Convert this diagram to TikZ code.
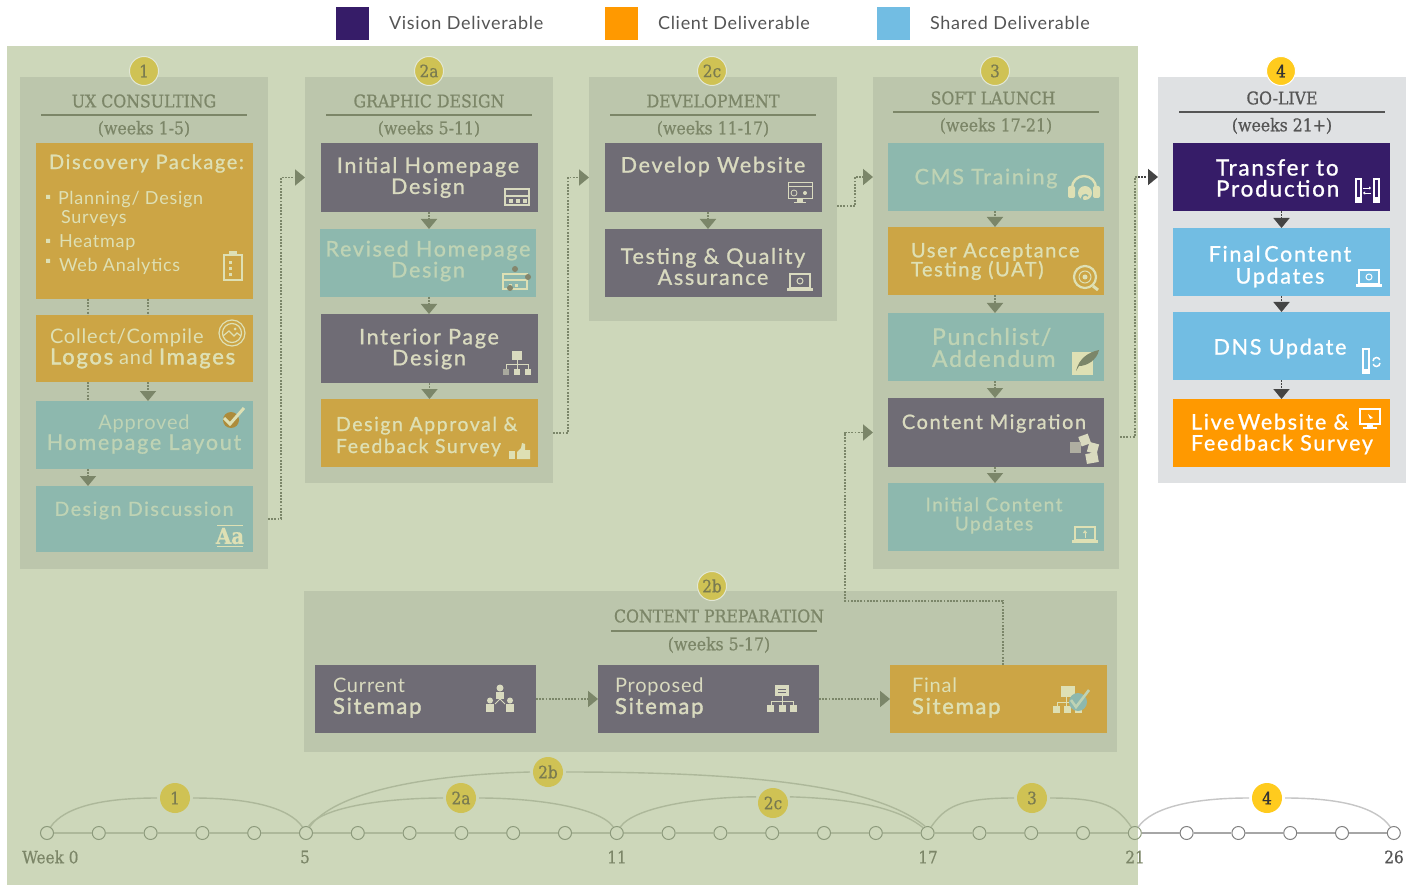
\documentclass[tikz,border=0pt]{standalone}
\usepackage{fontspec}
\usetikzlibrary{arrows.meta,calc}
\setmainfont{Lato}
\newfontfamily\bodyf[LetterSpace=8,FakeBold=1.0]{Lato}
\newfontfamily\thinf[LetterSpace=4]{Lato}
\newfontfamily\heavyf[LetterSpace=8,FakeBold=1.8]{Lato}
\newfontfamily\slabf[FakeBold=0.7]{DejaVu Serif Condensed}
\newcommand{\hv}[1]{{\heavyf\fontsize{22}{21}\selectfont #1}}
\definecolor{panel}{HTML}{CDD7BA}
\definecolor{colbg}{HTML}{BCC6AC}
\definecolor{teal}{HTML}{8DB8AE}
\definecolor{ochre}{HTML}{CCA545}
\definecolor{slate}{HTML}{6F6C75}
\definecolor{olive}{HTML}{7B8669}
\definecolor{vision}{HTML}{361C68}
\definecolor{shared}{HTML}{72BDE3}
\definecolor{client}{HTML}{FF9900}
\definecolor{greybg}{HTML}{DFE1E3}
\definecolor{badge}{HTML}{CFC254}
\definecolor{badgeink}{HTML}{7A7B50}
\definecolor{goldb}{HTML}{FFCB1E}
\definecolor{hdink}{HTML}{7C8668}
\definecolor{hddark}{HTML}{555555}
\definecolor{ctext}{HTML}{DEE0B4}
\definecolor{ttext}{HTML}{BFD3B4}
\definecolor{gtext}{HTML}{D9DABF}
\definecolor{arcc}{HTML}{ADB89A}
\definecolor{tick}{HTML}{8D9A7C}
\definecolor{wkink}{HTML}{858F75}
\tikzset{
 x=1pt,y=-1pt,
 cell/.style={inner sep=0,outer sep=0,draw=none},
 txt/.style={inner sep=0,outer sep=0,yshift=-1.5pt,align=center,font=\bodyf\fontsize{21.5}{21}\selectfont},
 txtl/.style={txt,align=left,anchor=west},
 hd/.style={inner sep=0,font=\slabf\fontsize{17.5}{18}\selectfont,text=hdink},
 wk/.style={inner sep=0,font=\slabf\fontsize{17}{18}\selectfont,text=hdink},
 rulel/.style={line width=2pt,draw=hdink},
 badg/.style={circle,minimum size=29pt,inner sep=0,fill=badge,draw=panel!60!white,line width=1pt,text=badgeink,font=\slabf\fontsize{17}{17}\selectfont},
 tbadg/.style={circle,minimum size=30pt,inner sep=0,fill=badge,draw=none,outer sep=3pt,text=badgeink,font=\slabf\fontsize{17}{17}\selectfont},
 dotc/.style={draw=olive,line width=1.8pt,dash pattern=on 1.8pt off 1.4pt,-{Triangle[width=16pt,length=10pt,color=olive]}},
 dotn/.style={draw=olive,line width=1.8pt,dash pattern=on 1.8pt off 1.4pt},
 week/.style={circle,minimum size=13pt,inner sep=0,draw=tick,line width=1pt},
 wlink/.style={draw=arcc,line width=1.8pt},
 arcl/.style={draw=arcc,line width=1.4pt},
}
\newcommand{\bx}[6]{\pgfmathsetmacro\bw{#4-#2}\pgfmathsetmacro\bh{#5-#3}\node[cell,fill=#6,minimum width=\bw pt,minimum height=\bh pt] (#1) at ({(#2+#4)/2},{(#3+#5)/2}) {};}
% icons
\newcommand{\iLayout}[3]{\begin{scope}[shift={(#1,#2)}]\draw[#3,line width=1.4pt](-12,-8) rectangle (12,8);\fill[#3](-12,-2) rectangle (12,0);\foreach\q in{-8,-1,6}{\fill[#3](\q,2) rectangle ++(4,4);}\end{scope}}
\newcommand{\iClip}[3]{\begin{scope}[shift={(#1,#2)}]\draw[#3,line width=1.5pt](-9,-11) rectangle (9,14);\fill[#3](-4,-15) rectangle (4,-10);\foreach\q in{-5,1,7}{\fill[#3](-4,\q) rectangle ++(3,3);}\end{scope}}
\newcommand{\iPhoto}[3]{\begin{scope}[shift={(#1,#2)}]\draw[#3,line width=1.2pt](0,0) circle (13);\draw[#3,line width=1.2pt](0,0) circle (9.5);\draw[#3,line width=1.2pt](-9,3)--(-3,-2)--(2,3)--(5,0)--(9,3);\fill[#3](3,-4) circle (1.5);\end{scope}}
\newcommand{\iCheck}[4]{\begin{scope}[shift={(#1,#2)}]\fill[#4!85!black](-1,2) circle (8);\draw[#3,line width=3pt](-8,0)--(-2,6)--(12,-10);\end{scope}}
\newcommand{\iAa}[3]{\begin{scope}[shift={(#1,#2)}]\node[inner sep=0,text=#3,font=\slabf\bfseries\fontsize{22}{22}\selectfont] (iaa) at (0,0) {Aa};\draw[#3,line width=1pt](-13,-11)--(13,-11) (-13,10)--(13,10);\end{scope}}
\newcommand{\iRevised}[3]{\begin{scope}[shift={(#1,#2)}]\draw[#3,line width=1.3pt](-12,-6) rectangle (12,9);\fill[#3](-12,-1) rectangle (12,1);\fill[#3](-6,4) rectangle ++(3,3);\fill[#3](0,4) rectangle ++(3,3);\fill[#3!60!black](0,-11) circle (3);\fill[#3!60!black](13,-3) circle (3);\fill[#3!60!black](-5,8) circle (3);\end{scope}}
\newcommand{\iTree}[3]{\begin{scope}[shift={(#1,#2)}]\fill[#3](-5,-12) rectangle (5,-3);\draw[#3,line width=1pt](0,-3)--(0,2)(-11,6)--(-11,2)--(11,2)--(11,6)(0,2)--(0,6);\fill[#3!55!slate](-14,6) rectangle (-8,12);\fill[#3](-3,6) rectangle (3,12);\fill[#3](8,6) rectangle (14,12);\end{scope}}
\newcommand{\iThumb}[3]{\begin{scope}[shift={(#1,#2)}]\fill[#3](-10,-1) rectangle (-4,7);\fill[#3](-2,0)--(2,-4)--(3,-9)--(6,-8)--(6,-2)--(11,-2)--(11,7)--(-2,7)--cycle;\end{scope}}
\newcommand{\iDev}[3]{\begin{scope}[shift={(#1,#2)}]\draw[#3,line width=1pt](-12,-9) rectangle (12,7);\draw[#3,line width=1pt](-12,-5)--(12,-5);\draw[#3,line width=.8pt](-6,1) circle (3);\fill[#3](-3,7) rectangle (3,10);\fill[#3](-6,10) rectangle (6,11.5);\fill[#3](5,1) circle (2);\end{scope}}
\newcommand{\iLaptopEye}[3]{\begin{scope}[shift={(#1,#2)}]\draw[#3,line width=1.1pt](-10,-8) rectangle (10,6);\fill[#3](-13,6) rectangle (13,9);\draw[#3,line width=1pt](0,-1) circle (3);\end{scope}}
\newcommand{\iLaptopUp}[3]{\begin{scope}[shift={(#1,#2)}]\draw[#3,line width=1.1pt](-10,-8) rectangle (10,5);\fill[#3](-13,5) rectangle (13,8);\draw[#3,line width=1pt,-{Triangle[width=4pt,length=3pt]}](0,3)--(0,-5);\end{scope}}
\newcommand{\iHead}[3]{\begin{scope}[shift={(#1,#2)}]\draw[#3,line width=2.4pt](-12,2) arc[start angle=180,end angle=360,radius=12];\fill[#3,rounded corners=2pt](-16,0) rectangle (-9,12);\fill[#3,rounded corners=2pt](9,0) rectangle (16,12);\fill[#3](1,7) circle (7);\draw[teal,line width=1.6pt](4,10) arc[start angle=-40,end angle=-300,radius=3.5];\end{scope}}
\newcommand{\iSearch}[3]{\begin{scope}[shift={(#1,#2)}]\draw[#3,line width=2.2pt](0,0) circle (11);\draw[#3,line width=1pt](0,0) circle (6);\fill[#3](0,0) circle (2.5);\draw[#3,line width=3pt](8,9)--(13,13);\end{scope}}
\newcommand{\iDoc}[3]{\begin{scope}[shift={(#1,#2)}]\fill[#3](-13,-10) rectangle (8,13);\fill[olive](-9,9) .. controls (-6,-4) and (4,-10) .. (14,-12) .. controls (12,-2) and (2,4) .. (-6,4) -- cycle;\end{scope}}
\newcommand{\iBoxes}[3]{\begin{scope}[shift={(#1,#2)}]\fill[#3,rotate around={20:(0,-8)}](-5,-14) rectangle (5,-4);\fill[#3!60!slate](-15,-7) rectangle (-4,4);\fill[#3,rotate around={-15:(8,-1)}](3,-6) rectangle (13,4);\fill[#3,rotate around={10:(7,9)}](1,4) rectangle (13,14);\end{scope}}
\newcommand{\iServers}[3]{\begin{scope}[shift={(#1,#2)}]\draw[#3,line width=1.1pt](-11,-11) rectangle (-6,12);\draw[#3,line width=1.1pt](7,-11) rectangle (12,12);\fill[#3](-11,7) rectangle (-6,12);\fill[#3](7,7) rectangle (12,12);\draw[#3,line width=.8pt,-{Triangle[width=3pt,length=2pt]}](-4,-2)--(4,-2);\draw[#3,line width=.8pt,-{Triangle[width=3pt,length=2pt]}](4,3)--(-4,3);\end{scope}}
\newcommand{\iSvSwap}[3]{\begin{scope}[shift={(#1,#2)}]\draw[#3,line width=1.1pt](-7,-12) rectangle (-1,12);\fill[#3](-7,8) rectangle (-1,12);\draw[#3,line width=1.5pt](3,0) arc[start angle=180,end angle=340,radius=3.5];\draw[#3,line width=1.5pt](10,2) arc[start angle=0,end angle=160,radius=3.5];\end{scope}}
\newcommand{\iMon}[3]{\begin{scope}[shift={(#1,#2)}]\draw[#3,line width=1.2pt](-10,-9) rectangle (10,6);\fill[#3](-3,6) rectangle (3,9);\fill[#3](-7,9) rectangle (7,11);\fill[#3](-2,-4)--(3,0)--(0,1)--cycle;\end{scope}}
\newcommand{\iPeople}[3]{\begin{scope}[shift={(#1,#2)}]\fill[#3](0,-11) circle (3.5);\fill[#3](-4,-7) rectangle (4,0);\fill[#3](-10,1.5) circle (3);\fill[#3](-14,5) rectangle (-6,13);\fill[#3](10,1.5) circle (3);\fill[#3](6,5) rectangle (14,13);\draw[#3,line width=1pt](-5,5)--(0,0)--(5,5);\end{scope}}
\newcommand{\iProp}[3]{\begin{scope}[shift={(#1,#2)}]\fill[#3](-7,-14) rectangle (7,-3);\draw[slate,line width=.7pt](-4,-10)--(4,-10)(-4,-7)--(4,-7);\draw[#3,line width=1pt](0,-3)--(0,6)(-11,6)--(-11,2)--(11,2)--(11,6);\fill[#3](-15,6) rectangle (-8,13);\fill[#3](-3.5,6) rectangle (3.5,13);\fill[#3](8,6) rectangle (15,13);\end{scope}}
\newcommand{\iFinal}[3]{\begin{scope}[shift={(#1,#2)}]\fill[#3](-11,-14) rectangle (3,-3);\draw[#3,line width=1pt](-6,-3)--(-6,6)(-15,6)--(-15,2)--(4,2)--(4,6);\fill[#3](-19,6) rectangle (-12,13);\fill[#3](-8,6) rectangle (-1,13);\fill[#3](3,6) rectangle (10,13);\fill[teal](6,2) circle (9);\draw[ttext,line width=2.6pt](-1,0)--(4,7)--(17,-10);\end{scope}}
\begin{document}
\begin{tikzpicture}
\useasboundingbox (0,0) rectangle (1406,885);
\fill[white] (0,0) rectangle (1406,885);
% legend
\bx{legA}{336}{7}{369}{40}{vision}
\bx{legB}{605}{7}{638}{40}{client}
\bx{legC}{877}{7}{910}{40}{shared}
\node[txtl,text=hddark,font=\thinf\fontsize{18}{18}\selectfont] (legAt) at (389,21.5) {Vision Deliverable};
\node[txtl,text=hddark,font=\thinf\fontsize{18}{18}\selectfont] (legBt) at (658,21.5) {Client Deliverable};
\node[txtl,text=hddark,font=\thinf\fontsize{18}{18}\selectfont] (legCt) at (930,21.5) {Shared Deliverable};
% big panel
\bx{zone}{7}{46}{1138}{885}{panel}
% columns
\bx{colA}{20}{77}{268}{569}{colbg}
\bx{colB}{305}{77}{553}{483}{colbg}
\bx{colC}{589}{77}{837}{321}{colbg}
\bx{colD}{873}{77}{1119}{569}{colbg}
\bx{colE}{1158}{77}{1406}{483}{greybg}
\bx{colF}{304}{591}{1117}{752}{colbg}
% column 1
\bx{disc}{36}{143}{253}{299}{ochre}
\bx{coll}{36}{315}{253}{382}{ochre}
\bx{appr}{36}{401}{253}{469}{teal}
\bx{ddis}{36}{486}{253}{552}{teal}
% column 2
\bx{ihd}{321}{143}{538}{212}{slate}
\bx{rhd}{320}{229}{536}{297}{teal}
\bx{ipd}{321}{314}{538}{383}{slate}
\bx{dafs}{321}{399}{538}{467}{ochre}
% column 3
\bx{dw}{605}{143}{822}{212}{slate}
\bx{tqa}{605}{229}{822}{297}{slate}
% column 4
\bx{cms}{888}{143}{1104}{211}{teal}
\bx{uat}{888}{227}{1104}{295}{ochre}
\bx{pun}{888}{313}{1104}{381}{teal}
\bx{mig}{888}{398}{1104}{467}{slate}
\bx{icu}{888}{483}{1104}{551}{teal}
% column 5
\bx{tp}{1173}{143}{1390}{211}{vision}
\bx{fcu}{1173}{228}{1390}{296}{shared}
\bx{dns}{1173}{312}{1390}{380}{shared}
\bx{lw}{1173}{399}{1390}{467}{client}
% content preparation
\bx{cs}{315}{665}{536}{733}{slate}
\bx{ps}{598}{665}{819}{733}{slate}
\bx{fs}{890}{665}{1107}{733}{ochre}
% headers
\node[hd] (h1) at (144,101) {UX CONSULTING};
\node[hd] (h1w) at (144,129) {(weeks 1-5)};
\coordinate (r1a) at (41,115.5); \coordinate (r1b) at (247,115.5);
\draw[rulel] (r1a)--(r1b);
\node[hd] (h2) at (429,101) {GRAPHIC DESIGN};
\node[hd] (h2w) at (429,129) {(weeks 5-11)};
\coordinate (r2a) at (326,115.5); \coordinate (r2b) at (532,115.5);
\draw[rulel] (r2a)--(r2b);
\node[hd] (h3) at (713,101) {DEVELOPMENT};
\node[hd] (h3w) at (713,129) {(weeks 11-17)};
\coordinate (r3a) at (610,115.5); \coordinate (r3b) at (816,115.5);
\draw[rulel] (r3a)--(r3b);
\node[hd] (h4) at (993,98) {SOFT LAUNCH};
\node[hd] (h4w) at (996,126) {(weeks 17-21)};
\coordinate (r4a) at (893,112.5); \coordinate (r4b) at (1099,112.5);
\draw[rulel] (r4a)--(r4b);
\node[hd,text=hddark] (h5) at (1282,98) {GO-LIVE};
\node[hd,text=hddark] (h5w) at (1282,126) {(weeks 21+)};
\coordinate (r5a) at (1179,112.5); \coordinate (r5b) at (1385,112.5);
\draw[rulel,draw=hddark] (r5a)--(r5b);
\node[hd] (h6) at (719,616) {CONTENT PREPARATION};
\node[hd] (h6w) at (719,645) {(weeks 5-17)};
\coordinate (r6a) at (611,631); \coordinate (r6b) at (817,631);
\draw[rulel] (r6a)--(r6b);
% badges
\node[badg] (b1) at (144,71) {1};
\node[badg] (b2a) at (429,71) {2a};
\node[badg] (b2c) at (712,71) {2c};
\node[badg] (b3) at (995,71) {3};
\node[badg,fill=goldb,draw=white,text=hddark!60!black] (b4) at (1281,71) {4};
\node[badg] (b2b) at (712,586) {2b};
% texts column 1
\node[txtl,text=ctext] (t1) at (49,162) {\fontsize{20}{20}\selectfont Discovery Package:};
\fill[ctext] (46,195) rectangle ++(4,4) (46,239) rectangle ++(4,4) (46,259) rectangle ++(4,4);
\node[txtl,text=ctext,font=\thinf\fontsize{18}{19}\selectfont] (t2) at (58,207.5) {Planning/ Design\\\,Surveys};
\node[txtl,text=ctext,font=\thinf\fontsize{18}{19}\selectfont] (t3) at (59,241) {Heatmap};
\node[txtl,text=ctext,font=\thinf\fontsize{18}{19}\selectfont] (t4) at (59,265) {Web Analytics};
\node[txtl,text=ctext,font=\thinf\fontsize{20}{21}\selectfont] (t5) at (50,347) {Collect/Compile\\\hv{Logos} and \hv{Images}};
\node[txt,text=ttext,font=\thinf\fontsize{20}{20}\selectfont] (t6) at (144,433) {Approved\\{\bodyf\fontsize{21.5}{20}\selectfont Homepage Layout}};
\node[txt,text=ttext] (t7) at (144,509) {\fontsize{19.5}{20}\selectfont Design Discussion};
% texts column 2
\node[txt,text=gtext] (t8) at (428,176) {Initial Homepage\\Design};
\node[txt,text=ttext] (t9) at (428,259.5) {Revised Homepage\\Design};
\node[txt,text=gtext] (t10) at (429,347.5) {Interior Page\\Design};
\node[txtl,text=ctext,font=\bodyf\fontsize{19.5}{22}\selectfont] (t11) at (336,435) {Design Approval \&\\Feedback Survey};
% texts column 3
\node[txt,text=gtext] (t12) at (713,165) {Develop Website};
\node[txt,text=gtext] (t13) at (713,265) {Testing \& Quality\\Assurance};
% texts column 4
\node[txt,text=ttext] (t14) at (986,177) {CMS Training};
\node[txtl,text=ctext,font=\bodyf\fontsize{20}{19}\selectfont] (t15) at (911,260) {User Acceptance\\Testing (UAT)};
\node[txtl,text=ttext,font=\bodyf\fontsize{23}{22}\selectfont] (t16) at (932,346) {Punchlist/\\Addendum};
\node[txt,text=gtext] (t17) at (994,422) {\fontsize{20}{20}\selectfont Content Migration};
\node[txt,text=ttext,font=\bodyf\fontsize{19}{19}\selectfont] (t18) at (994,514) {Initial Content\\Updates};
% texts column 5
\node[txtl,text=white,align=left,font=\bodyf\fontsize{22.5}{21}\selectfont] (t19) at (1216,176.5) {Transfer to\\Production};
\node[txt,text=white,font=\bodyf\fontsize{21.5}{22}\selectfont] (t20) at (1280,265) {Final\,Content\\Updates};
\node[txt,text=white] (t21) at (1280,347) {DNS Update};
\node[txtl,text=white,font=\bodyf\fontsize{21.5}{21}\selectfont] (t22) at (1191,432.5) {Live\,Website \&\\Feedback Survey};
% texts content prep
\node[txtl,text=gtext,font=\thinf\fontsize{20}{21}\selectfont] (t23) at (333,696.5) {Current\\\hv{Sitemap}};
\node[txtl,text=gtext,font=\thinf\fontsize{20}{21}\selectfont] (t24) at (615,696.5) {Proposed\\\hv{Sitemap}};
\node[txtl,text=ctext,font=\thinf\fontsize{20}{21}\selectfont] (t25) at (912,696.5) {Final\\\hv{Sitemap}};
% icons
\iClip{233}{266}{ctext}
\iPhoto{232}{333}{ctext}
\iCheck{232}{418}{ctext}{ochre}
\iAa{230}{536}{ctext}
\iLayout{517}{197}{gtext}
\iRevised{515}{280}{ctext}
\iTree{517}{363}{gtext}
\iThumb{519}{452}{ctext}
\iDev{800}{192}{gtext}
\iLaptopEye{800}{282}{gtext}
\iHead{1084}{186}{ctext}
\iSearch{1085}{277}{ctext}
\iDoc{1085}{362}{ctext}
\iBoxes{1085}{449}{gtext}
\iLaptopUp{1085}{535}{ctext}
\iServers{1367}{190}{white}
\iLaptopEye{1369}{278}{white}
\iSvSwap{1370}{361}{white}
\iMon{1370}{418}{white}
\iPeople{500}{699}{gtext}
\iProp{782}{699}{gtext}
\iFinal{1072}{700}{ctext}
% vertical links
\draw[dotn] ([xshift=-56.5]disc.south) -- ([xshift=-56.5]coll.north);
\draw[dotn] ([xshift=3.5]disc.south) -- ([xshift=3.5]coll.north);
\draw[dotn] ([xshift=-56.5]coll.south) -- ([xshift=-56.5]appr.north);
\draw[dotc] ([xshift=3.5]coll.south) -- ([xshift=3.5]appr.north);
\draw[dotc] ([xshift=-56.5]appr.south) -- ([xshift=-56.5]ddis.north);
\draw[dotc] ([xshift=-.5]ihd.south) -- ([xshift=1]rhd.north);
\draw[dotc] ([xshift=1]rhd.south) -- ([xshift=-.5]ipd.north);
\draw[dotc] (ipd.south) -- (dafs.north);
\draw[dotc] ([xshift=-5.5]dw.south) -- ([xshift=-5.5]tqa.north);
\draw[dotc] ([xshift=-1]cms.south) -- ([xshift=-1]uat.north);
\draw[dotc] ([xshift=-1]uat.south) -- ([xshift=-1]pun.north);
\draw[dotc] ([xshift=-1]pun.south) -- ([xshift=-1]mig.north);
\draw[dotc] ([xshift=-1]mig.south) -- ([xshift=-1]icu.north);
\tikzset{dotd/.style={dotc,draw=hddark!80!black,-{Triangle[width=16pt,length=10pt,color=hddark!80!black]}}}
\draw[dotd] (tp.south) -- (fcu.north);
\draw[dotd] (fcu.south) -- (dns.north);
\draw[dotd] (dns.south) -- (lw.north);
% links between columns
\draw[dotc] (colA.east |- ddis) -- ++(13,0) |- (colB.west |- ihd);
\draw[dotc] (colB.east |- dafs) -- ++(15,0) |- (colC.west |- dw);
\coordinate (c34) at (837,206);
\draw[dotc] (c34) -- ++(18,0) |- (colD.west |- cms);
\coordinate (c45) at (1120,437);
\coordinate (c45b) at (1138,177);
\draw[dotn] (c45) -- ++(15,0) |- (c45b);
\draw[dotd] (c45b) -- (colE.west |- tp);
\draw[dotc] (cs) -- (ps);
\draw[dotc] (ps) -- (fs);
\coordinate (c63) at (1003,665);
\coordinate (c63b) at (1003,601);
\coordinate (c63c) at (845,601);
\draw[dotc] (c63) -- (c63b) -- (c63c) |- (colD.west |- mig);
% timeline
\foreach \i [evaluate=\i as \xx using 47+51.8*\i] in {0,...,26}{
  \ifnum\i>21
    \node[week,fill=white,draw=gray] (w\i) at (\xx,833) {};
  \else
    \node[week] (w\i) at (\xx,833) {};
  \fi
}
\foreach \i [evaluate=\i as \j using int(\i+1)] in {0,...,25}{
  \ifnum\i>20
    \draw[wlink,draw=gray!70] (w\i) -- (w\j);
  \else
    \draw[wlink] (w\i) -- (w\j);
  \fi
}
\node[tbadg] (k1) at (175,798) {1};
\node[tbadg] (k2a) at (461,798) {2a};
\node[tbadg] (k2b) at (548,772) {2b};
\node[tbadg] (k2c) at (773,803) {2c};
\node[tbadg] (k3) at (1032,798) {3};
\node[tbadg,fill=goldb,text=hddark!60!black] (k4) at (1267,798) {4};
\draw[arcl] (w0.60) .. controls +(14,-20) and +(-55,0) .. (k1.west);
\draw[arcl] (k1.east) .. controls +(55,0) and +(-14,-20) .. (w5.120);
\draw[arcl] (w5.70) .. controls +(14,-20) and +(-55,0) .. (k2a.west);
\draw[arcl] (k2a.east) .. controls +(55,0) and +(-14,-20) .. (w11.120);
\draw[arcl] (w5.60) .. controls +(25,-34) and +(-110,3) .. (k2b.west);
\draw[arcl] (k2b.east) .. controls +(190,0) and +(-48,-40) .. (w17.110);
\draw[arcl] (w11.60) .. controls +(14,-20) and +(-55,0) .. (k2c.160);
\draw[arcl] (k2c.20) .. controls +(75,2) and +(-20,-16) .. (w17.130);
\draw[arcl] (w17.60) .. controls +(14,-20) and +(-55,0) .. (k3.west);
\draw[arcl] (k3.east) .. controls +(55,0) and +(-14,-20) .. (w21.120);
\draw[arcl,draw=gray!45] (w21.60) .. controls +(14,-20) and +(-55,0) .. (k4.west);
\draw[arcl,draw=gray!45] (k4.east) .. controls +(55,0) and +(-14,-20) .. (w26.120);
\node[wk,anchor=west] (l0) at (22,857) {Week 0};
\node[wk] (l5) at (305,857) {5};
\node[wk] (l11) at (617,857) {11};
\node[wk] (l17) at (928,857) {17};
\node[wk] (l21) at (1135,857) {21};
\node[wk,text=hddark] (l26) at (1394,857) {26};
\end{tikzpicture}
\end{document}
